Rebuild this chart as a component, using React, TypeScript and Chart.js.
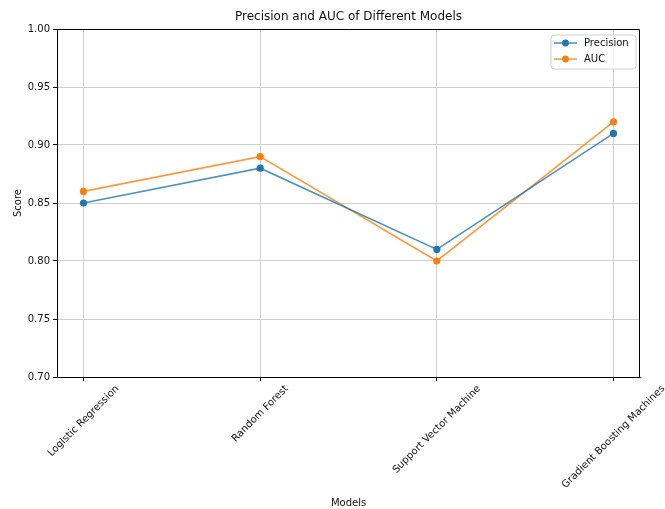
import React, { useEffect, useRef } from "react";
import { Chart, registerables } from "chart.js";
Chart.register(...registerables);

const models = ["Logistic Regression", "Random Forest", "Support Vector Machine", "Gradient Boosting Machines"];
const precision = [0.85, 0.88, 0.81, 0.91];
const auc = [0.86, 0.89, 0.8, 0.92];
const yTicks = [0.7, 0.75, 0.8, 0.85, 0.9, 0.95, 1.0];
const seriesNames = ["Precision", "AUC"];
const chartTitle = "Precision and AUC of Different Models";
const xTitle = "Models";
const yTitle = "Score";

const FONT = "'DejaVu Sans', sans-serif";
const BLUE = "#1f77b4";
const ORANGE = "#ff7f0e";
const BLUE_LINE = "rgba(31,119,180,0.8)";
const ORANGE_LINE = "rgba(255,127,14,0.8)";

const overlay = {
  id: "overlay",
  afterDraw(chart: any) {
    const { ctx, chartArea: a, scales } = chart;
    ctx.save();
    // top and right spines
    ctx.strokeStyle = "#000";
    ctx.lineWidth = 1;
    ctx.beginPath();
    const t = Math.round(a.top) + 0.5;
    const rgt = Math.round(a.right) - 0.5;
    ctx.moveTo(Math.round(a.left), t);
    ctx.lineTo(rgt, t);
    ctx.lineTo(rgt, Math.round(a.bottom));
    ctx.stroke();
    // title
    ctx.fillStyle = "#111";
    ctx.font = `12px ${FONT}`;
    ctx.textAlign = "center";
    ctx.textBaseline = "middle";
    ctx.fillText(chartTitle, (a.left + a.right) / 2, 17);
    // rotated x labels
    ctx.font = `10px ${FONT}`;
    const xs = scales.x;
    models.forEach((m, i) => {
      const px = xs.getPixelForValue(i);
      const w = ctx.measureText(m).width;
      const h = 11.6;
      const half = (w + h) / (2 * Math.SQRT2);
      ctx.save();
      ctx.translate(px, a.bottom + 6 + half);
      ctx.rotate(-Math.PI / 4);
      ctx.fillText(m, 0, 0);
      ctx.restore();
    });
    // legend
    const lx = 551, ly = 35, lw = 85, lh = 34, r = 3;
    ctx.beginPath();
    ctx.moveTo(lx + r, ly);
    ctx.arcTo(lx + lw, ly, lx + lw, ly + lh, r);
    ctx.arcTo(lx + lw, ly + lh, lx, ly + lh, r);
    ctx.arcTo(lx, ly + lh, lx, ly, r);
    ctx.arcTo(lx, ly, lx + lw, ly, r);
    ctx.closePath();
    ctx.fillStyle = "rgba(255,255,255,0.8)";
    ctx.fill();
    ctx.strokeStyle = "#d0d0d0";
    ctx.lineWidth = 1;
    ctx.stroke();
    const cols = [[BLUE_LINE, BLUE], [ORANGE_LINE, ORANGE]];
    seriesNames.forEach((n, i) => {
      const y = ly + 8 + i * 16;
      ctx.strokeStyle = cols[i][0];
      ctx.lineWidth = 1.5;
      ctx.beginPath();
      ctx.moveTo(lx + 3, y);
      ctx.lineTo(lx + 26, y);
      ctx.stroke();
      ctx.fillStyle = cols[i][1];
      ctx.beginPath();
      ctx.arc(lx + 14.5, y, 3.4, 0, Math.PI * 2);
      ctx.fill();
      ctx.fillStyle = "#111";
      ctx.textAlign = "left";
      ctx.textBaseline = "middle";
      ctx.fillText(n, lx + 33, y + 0.5);
    });
    ctx.restore();
  },
};

export default function App() {
  const ref = useRef<HTMLCanvasElement>(null);
  useEffect(() => {
    if (!ref.current) return;
    const chart = new Chart(ref.current, {
      type: "line",
      data: {
        datasets: [
          {
            label: seriesNames[0],
            data: models.map((_, i) => ({ x: i, y: precision[i] })),
            borderColor: BLUE_LINE,
            backgroundColor: BLUE,
            pointBackgroundColor: BLUE,
            pointBorderColor: BLUE,
            pointBorderWidth: 0,
            pointRadius: 3.6,
            borderWidth: 1.6,
            tension: 0,
          },
          {
            label: seriesNames[1],
            data: models.map((_, i) => ({ x: i, y: auc[i] })),
            borderColor: ORANGE_LINE,
            backgroundColor: ORANGE,
            pointBackgroundColor: ORANGE,
            pointBorderColor: ORANGE,
            pointBorderWidth: 0,
            pointRadius: 3.6,
            borderWidth: 1.6,
            tension: 0,
          },
        ],
      },
      options: {
        responsive: false,
        animation: false,
        events: [],
        devicePixelRatio: 1,
        layout: { padding: { top: 29, right: 25, left: 0, bottom: 0 } },
        plugins: { legend: { display: false }, tooltip: { enabled: false }, title: { display: false } },
        scales: {
          x: {
            type: "linear",
            min: -0.15,
            max: 3.15,
            afterBuildTicks: (s: any) => {
              s.ticks = models.map((_, i) => ({ value: i }));
            },
            afterFit: (s: any) => {
              s.height = 132;
            },
            ticks: { display: false },
            grid: { color: "#cfcfcf", lineWidth: 1, tickLength: 4, tickColor: "#000", drawTicks: true },
            border: { display: true, color: "#000", width: 1 },
            title: { display: true, text: xTitle, font: { family: FONT, size: 10 }, color: "#111", padding: 0 },
          },
          y: {
            type: "linear",
            min: 0.7,
            max: 1.0,
            afterBuildTicks: (s: any) => {
              s.ticks = yTicks.map((v) => ({ value: v }));
            },
            afterFit: (s: any) => {
              s.width = 57;
            },
            ticks: {
              font: { family: FONT, size: 10 },
              color: "#111",
              padding: 3,
              callback: (v: any) => Number(v).toFixed(2),
            },
            grid: { color: "#cfcfcf", lineWidth: 1, tickLength: 4, tickColor: "#000", drawTicks: true },
            border: { display: true, color: "#000", width: 1 },
            title: { display: true, text: yTitle, font: { family: FONT, size: 10 }, color: "#111", padding: { top: 12, bottom: 0 } },
          },
        },
      },
      plugins: [overlay],
    } as any);
    return () => chart.destroy();
  }, []);
  return (
    <div style={{ position: "absolute", left: 0, top: 0, width: 665, height: 509, background: "#fff" }}>
      <canvas ref={ref} width={665} height={509} style={{ width: 665, height: 509, display: "block" }} />
    </div>
  );
}
